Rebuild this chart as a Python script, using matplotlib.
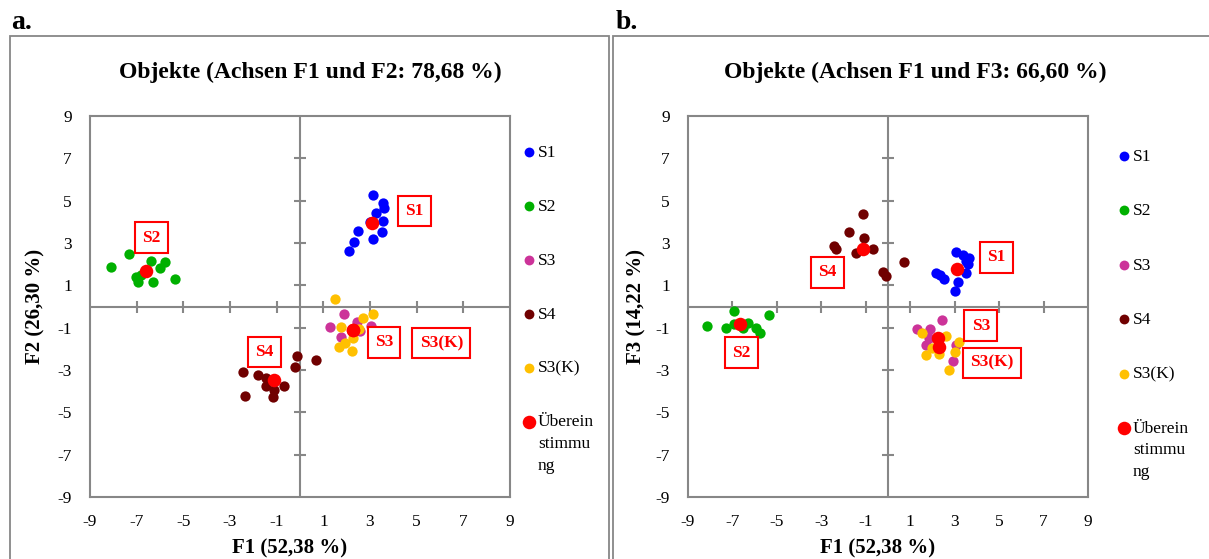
import matplotlib
matplotlib.use("Agg")
import matplotlib.pyplot as plt
from matplotlib.patches import Rectangle

plt.rcParams['font.family'] = ['Liberation Serif', 'DejaVu Serif']
plt.rcParams['axes.unicode_minus'] = False

W, H = 1209, 559

# ---------------- data ----------------
series_names = ["S1", "S2", "S3", "S4", "S3(K)"]
series_colors = ["#0000FF", "#00B000", "#CC3399", "#700000", "#FFC000"]
agree_name = "Überein\nstimmu\nng"
agree_color = "#FF0000"
label_names = ["S1", "S2", "S3", "S4", "S3(K)"]

# Panel a: F1 vs F2
a_S1_x = [3.12, 3.57, 3.60, 3.26, 3.54, 2.49, 3.51, 2.31, 3.12, 2.11, 3.00]
a_S1_y = [5.27, 4.91, 4.67, 4.43, 4.06, 3.57, 3.54, 3.07, 3.18, 2.60, 4.00]
a_S2_x = [-8.11, -7.31, -6.39, -5.80, -6.00, -7.03, -6.93, -6.31, -5.36, -6.80]
a_S2_y = [1.86, 2.47, 2.16, 2.08, 1.81, 1.39, 1.15, 1.15, 1.29, 1.50]
a_S3_x = [1.89, 1.29, 2.43, 3.03, 1.76, 2.57, 3.14]
a_S3_y = [-0.34, -0.99, -0.71, -0.90, -1.46, -1.18, -1.42]
a_S4_x = [-0.11, 0.70, -0.23, -2.46, -1.79, -1.47, -0.67, -1.46, -1.11, -1.14, -2.36]
a_S4_y = [-2.33, -2.55, -2.84, -3.10, -3.22, -3.40, -3.77, -3.74, -3.96, -4.27, -4.21]
a_S3K_x = [1.50, 3.14, 2.71, 1.74, 2.54, 3.07, 2.29, 1.94, 1.69, 2.24]
a_S3K_y = [0.36, -0.36, -0.55, -0.99, -1.05, -1.30, -1.49, -1.73, -1.89, -2.12]
a_agree_x = [3.07, -6.60, 2.26, -1.10, 2.28]
a_agree_y = [3.96, 1.68, -1.10, -3.46, -1.12]
a_label_x = [4.89, -6.37, 3.60, -1.54, 6.06]
a_label_y = [4.51, 3.25, -1.69, -2.14, -1.73]

# Panel b: F1 vs F3
b_S1_x = [3.08, 3.38, 3.65, 3.60, 3.53, 2.15, 2.51, 3.15, 3.00, 2.33, 3.50]
b_S1_y = [2.59, 2.44, 2.28, 2.00, 1.57, 1.60, 1.31, 1.18, 0.75, 1.49, 2.15]
b_S2_x = [-6.94, -5.34, -8.13, -7.31, -6.52, -5.96, -5.77, -6.94, -6.30]
b_S2_y = [-0.19, -0.42, -0.90, -1.02, -1.02, -1.02, -1.26, -0.85, -0.80]
b_S3_x = [2.41, 1.29, 1.88, 1.85, 1.73, 3.08, 2.93]
b_S3_y = [-0.66, -1.07, -1.07, -1.49, -1.81, -1.81, -2.59]
b_S4_x = [-1.11, -1.76, -1.08, -2.45, -2.33, -0.66, -1.45, 0.73, -0.24, -0.09]
b_S4_y = [4.39, 3.50, 3.25, 2.88, 2.70, 2.72, 2.52, 2.12, 1.65, 1.42]
b_S3K_x = [1.54, 2.60, 3.20, 1.96, 3.03, 1.73, 2.30, 2.75]
b_S3K_y = [-1.23, -1.38, -1.68, -1.97, -2.15, -2.28, -2.25, -2.99]
b_agree_x = [3.11, -6.64, 2.26, -1.11, 2.30]
b_agree_y = [1.76, -0.82, -1.49, 2.72, -1.93]
b_label_x = [4.88, -6.60, 4.18, -2.74, 4.68]
b_label_y = [2.32, -2.18, -0.90, 1.62, -2.66]

ticks = list(range(-9, 10, 2))
inner_ticks = [t for t in ticks if abs(t) != 9]

titles = ["Objekte (Achsen F1 und F2: 78,68 %)", "Objekte (Achsen F1 und F3: 66,60 %)"]
xlabels = ["F1 (52,38 %)", "F1 (52,38 %)"]
ylabels = ["F2 (26,30 %)", "F3 (14,22 %)"]
panel_letters = ["a.", "b."]

GRAY = "#878787"

fig = plt.figure(figsize=(W / 100, H / 100), dpi=100)


def fx(px):
    return px / W


def fy(py):
    return 1 - py / H


# panel frames
for x0, x1 in [(10, 609), (613, 1220)]:
    fig.add_artist(Rectangle((fx(x0), -0.05), fx(x1) - fx(x0), fy(36) + 0.05,
                             transform=fig.transFigure, fill=False,
                             ec=GRAY, lw=1.3))

panels = [
    dict(box=(90, 510), xs=[a_S1_x, a_S2_x, a_S3_x, a_S4_x, a_S3K_x],
         ys=[a_S1_y, a_S2_y, a_S3_y, a_S4_y, a_S3K_y],
         ax_=a_agree_x, ay_=a_agree_y, lx=a_label_x, ly=a_label_y,
         leg_mx=529, leg_tx=538, leg_y0=152, leg_dy=53.9,
         ylab_x=35, letter_x=11, title_x=310),
    dict(box=(688, 1088), xs=[b_S1_x, b_S2_x, b_S3_x, b_S4_x, b_S3K_x],
         ys=[b_S1_y, b_S2_y, b_S3_y, b_S4_y, b_S3K_y],
         ax_=b_agree_x, ay_=b_agree_y, lx=b_label_x, ly=b_label_y,
         leg_mx=1124, leg_tx=1133, leg_y0=156, leg_dy=54.4,
         ylab_x=636, letter_x=616, title_x=915),
]

TOP, BOT = 116, 497
LINE_GAP = 21.5

for i, p in enumerate(panels):
    L, R = p["box"]
    ax = fig.add_axes([fx(L), fy(BOT), fx(R) - fx(L), fy(TOP) - fy(BOT)])
    ax.set_xlim(-9, 9)
    ax.set_ylim(-9, 9)
    for s in ax.spines.values():
        s.set_color(GRAY)
        s.set_linewidth(1.5)
    ax.set_xticks(ticks)
    ax.set_yticks(ticks)
    ax.tick_params(length=0, labelsize=12.5)
    ax.tick_params(axis='x', pad=12)
    ax.tick_params(axis='y', pad=13)
    ax.axhline(0, color=GRAY, lw=1.5, zorder=1)
    ax.axvline(0, color=GRAY, lw=1.5, zorder=1)
    ax.plot(inner_ticks, [0] * len(inner_ticks), ls='none', marker='|',
            ms=8, mew=1.5, color=GRAY, zorder=1)
    ax.plot([0] * len(inner_ticks), inner_ticks, ls='none', marker='_',
            ms=8, mew=1.5, color=GRAY, zorder=1)

    for xs, ys, c in zip(p["xs"], p["ys"], series_colors):
        ax.scatter(xs, ys, s=55, color=c, lw=0, zorder=3)
    ax.scatter(p["ax_"], p["ay_"], s=95, color=agree_color, lw=0, zorder=4)

    for name, x, y in zip(label_names, p["lx"], p["ly"]):
        ax.text(x, y, name, ha='center', va='center', color='red',
                fontsize=12.5, fontweight='bold', zorder=5,
                bbox=dict(boxstyle='square,pad=0.42', fc='white',
                          ec='red', lw=1.5))

    # legend
    names = series_names + [agree_name]
    colors = series_colors + [agree_color]
    for k, (n, c) in enumerate(zip(names, colors)):
        yy = p["leg_y0"] + k * p["leg_dy"]
        size = 95 if k == len(names) - 1 else 50
        fig.add_artist(plt.Line2D([fx(p["leg_mx"])], [fy(yy)], marker='o',
                                  ms=(size ** 0.5), color=c, mew=0,
                                  transform=fig.transFigure))
        extra = n.count("\n") * LINE_GAP
        fig.text(fx(p["leg_tx"]), fy(yy + 5 + extra), n, ha='left',
                 va='baseline', fontsize=12.5, linespacing=1.47)

    cx = (L + R) / 2
    fig.text(fx(p["title_x"]), fy(72), titles[i], ha='center', va='center',
             fontsize=17, fontweight='bold')
    fig.text(fx(cx - 10), fy(548), xlabels[i], ha='center', va='center',
             fontsize=15, fontweight='bold')
    fig.text(fx(p["ylab_x"]), fy((TOP + BOT) / 2), ylabels[i], ha='center',
             va='center', rotation=90, fontsize=15, fontweight='bold')
    fig.text(fx(p["letter_x"]), fy(29), panel_letters[i], ha='left',
             va='baseline', fontsize=20, fontweight='bold')

fig.savefig("out.png", dpi=100)
